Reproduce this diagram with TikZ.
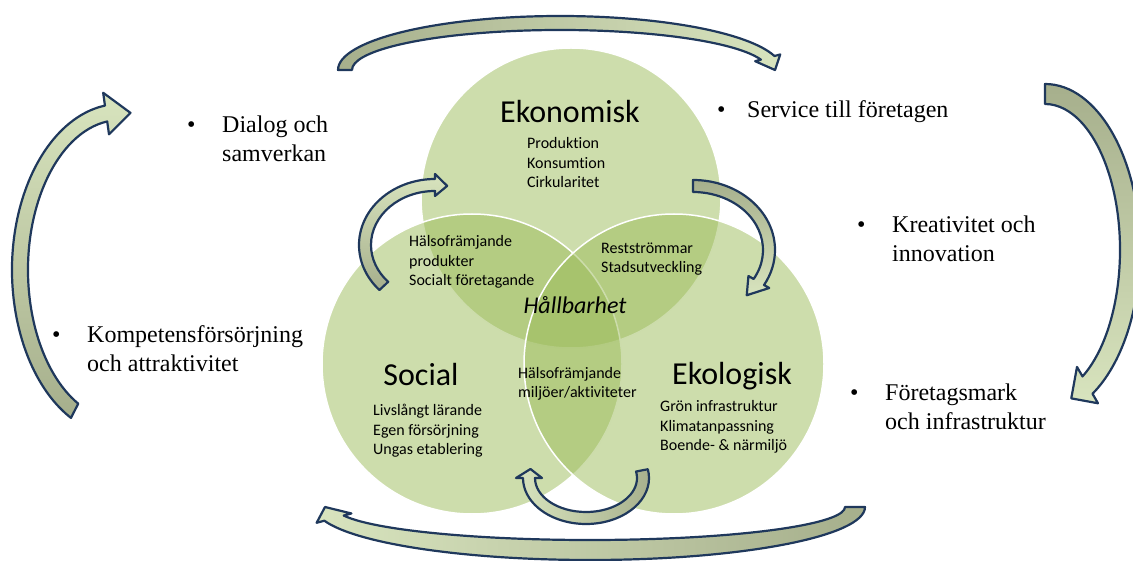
\documentclass[tikz,border=0pt]{standalone}
\usepackage{fontspec}
\setmainfont{Carlito}[Ligatures=NoCommon]
\newfontfamily\serifschrift{Liberation Serif}
\usetikzlibrary{calc}

\definecolor{kreisgruen}{RGB}{155,187,89}
\definecolor{pilrand}{RGB}{31,56,92}
\definecolor{pilhell}{RGB}{216,228,190}
\definecolor{pildunkel}{RGB}{166,175,140}

% #1 stil, #2 mitte, #3 rx, #4 ry, #5 start, #6 ende, #7 halbe breite, #8 spitze breite, #9 spitze winkel
\newcommand{\bogenpil}[9]{%
  \draw[pil,#1] ($(#2)+(#5:{#3+#7} and {#4+#7})$)
    arc[start angle=#5, end angle=#6, x radius={#3+#7}, y radius={#4+#7}]
    -- ($(#2)+(#6:{#3+#8} and {#4+#8})$)
    -- ($(#2)+(#9:#3 and #4)$)
    -- ($(#2)+(#6:{#3-#8} and {#4-#8})$)
    -- ($(#2)+(#6:{#3-#7} and {#4-#7})$)
    arc[start angle=#6, end angle=#5, x radius={#3-#7}, y radius={#4-#7}] -- cycle;}
\newcommand{\punkt}[2][35pt]{\begin{tabular}[t]{@{}p{#1}@{}l@{}}\textbullet&#2\end{tabular}}

\begin{document}
\begin{tikzpicture}[x=1pt,y=-1pt,
    kreis/.style={circle, minimum size=300pt, inner sep=0pt, fill=kreisgruen, fill opacity=0.5, draw=white, line width=1.5pt},
    pil/.style={draw=pilrand, line width=2.2pt, line join=round},
    titel/.style={font=\fontsize{32}{38}\selectfont},
    punkte/.style={font=\fontsize{16}{19.5}\selectfont, align=left, anchor=west, inner sep=0pt},
    liste/.style={font=\serifschrift\fontsize{24}{29}\selectfont, anchor=base west, inner sep=0pt}]
\useasboundingbox (0,0) rectangle (1133,561);

%kreise
\node[kreis] (ekonomi) at (571,198) {};
\node[kreis] (social) at (472,364) {};
\node[kreis] (ekologi) at (674,364) {};

\node[titel] (ekonomisk) at (570,112) {Ekonomisk};
\node[titel] (socialt) at (421,375) {Social};
\node[titel] (ekologisk) at (732,376) {Ekologisk};
\node[font=\fontsize{24}{29}\selectfont\itshape] (hallbarhet) at (575,305) {Hållbarhet};

\node[punkte] (produktion) at (527,163) {Produktion\\Konsumtion\\Cirkularitet};
\node[punkte] (produkter) at (409,262) {Hälsofrämjande\\produkter\\Socialt företagande};
\node[punkte] (rest) at (601,259) {Restströmmar\\Stadsutveckling};
\node[punkte] (miljoer) at (518,384) {Hälsofrämjande\\miljöer/aktiviteter};
\node[punkte] (larande) at (373,431) {Livslångt lärande\\Egen försörjning\\Ungas etablering};
\node[punkte] (gron) at (660,427) {Grön infrastruktur\\Klimatanpassning\\Boende- \& närmiljö};

%stora pilar
\coordinate (topp) at (560,70);
\coordinate (hoger) at (1045,250);
\coordinate (botten) at (590,507);
\coordinate (vanster) at (120,270);
\bogenpil{left color=pildunkel, right color=pilhell}{topp}{215}{47}{180}{345}{7}{13}{360}
\bogenpil{top color=pildunkel, bottom color=pilhell}{hoger}{85}{156}{270}{420}{10}{21}{432}
\bogenpil{left color=pilhell, right color=pildunkel}{botten}{265}{43}{0}{165}{10}{18}{180}
\bogenpil{bottom color=pildunkel, top color=pilhell}{vanster}{100}{158}{117}{262}{8}{21}{276}

%sma pilar
\coordinate (ivanster) at (435,245);
\coordinate (ihoger) at (693,250);
\coordinate (ibotten) at (586,478);
\bogenpil{bottom color=pildunkel, top color=pilhell}{ivanster}{70}{60}{137}{270}{6}{11}{280}
\bogenpil{top color=pildunkel, bottom color=pilhell}{ihoger}{76}{64}{270}{390}{6}{12}{405}
\bogenpil{left color=pilhell, right color=pildunkel}{ibotten}{57}{40}{-11}{180}{6}{13}{193}

%punkter
\node[liste] (dialog) at (187,133) {\punkt{Dialog och\\&samverkan}};
\node[liste] (service) at (717,118) {\punkt[30pt]{Service till företagen}};
\node[liste] (kreativitet) at (857,233) {\punkt{Kreativitet och\\&innovation}};
\node[liste] (kompetens) at (52,343) {\punkt{Kompetensförsörjning\\&och attraktivitet}};
\node[liste] (foretagsmark) at (850,400) {\punkt{Företagsmark\\&och infrastruktur}};
\end{tikzpicture}
\end{document}
